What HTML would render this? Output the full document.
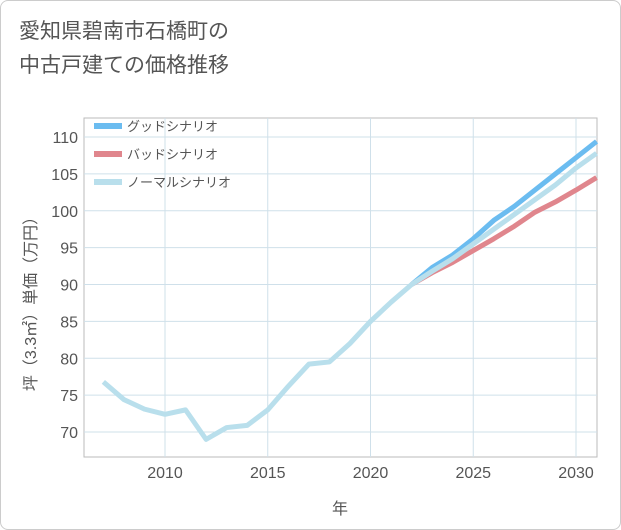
<!DOCTYPE html>
<html><head><meta charset="utf-8">
<style>
body{margin:0;background:#fff;}
#wrap{position:relative;width:619px;height:528px;border:1px solid #ccc;border-radius:8px;background:#fff;overflow:hidden;font-family:"Liberation Sans","Noto Sans CJK JP",sans-serif;}
.title{position:absolute;left:18px;top:14px;font-size:21px;line-height:34px;color:#555;}
</style></head><body>
<div id="wrap">
<div class="title">愛知県碧南市石橋町の<br>中古戸建ての価格推移</div>
<svg id="chart" width="621" height="530" style="position:absolute;left:-1px;top:-1px"></svg>
</div>
<script>
const years=[2007,2008,2009,2010,2011,2012,2013,2014,2015,2016,2017,2018,2019,2020,2021,2022,2023,2024,2025,2026,2027,2028,2029,2030,2031];
const normal=[76.8,74.4,73.1,72.4,73.0,69.0,70.6,70.9,73.0,76.2,79.2,79.5,82.0,85.0,87.6,90.0,91.8,93.5,95.5,97.5,99.5,101.5,103.5,105.8,107.8];
const fyears=[2022,2023,2024,2025,2026,2027,2028,2029,2030,2031];
const good=[90.0,92.3,94.0,96.2,98.7,100.6,102.8,105.0,107.2,109.4];
const bad=[90.0,91.6,93.0,94.6,96.2,97.9,99.8,101.2,102.8,104.5];
const xTicks=[2010,2015,2020,2025,2030];
const yTicks=[70,75,80,85,90,95,100,105,110];
const L=84,R=597,T=118,B=457;
const x=v=>165+(v-2010)*20.55;
const y=v=>432-(v-70)*7.375;
const svg=document.getElementById('chart');
const NS='http://www.w3.org/2000/svg';
function mk(t,a,p){const e=document.createElementNS(NS,t);for(const k in a)e.setAttribute(k,a[k]);(p||svg).appendChild(e);return e;}
let e=mk('rect',{x:L,y:T,width:R-L,height:B-T,fill:'#fff',stroke:'#bbb'});

xTicks.forEach(t=>{let g=mk('line',{x1:x(t),x2:x(t),y1:T,y2:B,stroke:'#cfe0ea'});

let tx=mk('text',{x:x(t),y:478,'text-anchor':'middle','font-size':16,fill:'#555'});tx.textContent=t;
});
yTicks.forEach(t=>{let g=mk('line',{x1:L,x2:R,y1:y(t),y2:y(t),stroke:'#cfe0ea'});

let tx=mk('text',{x:78,y:y(t)+6,'text-anchor':'end','font-size':16,fill:'#555'});tx.textContent=t;
});
function line(xs,vs,c,n){const d=xs.map((v,i)=>(i?'L':'M')+x(v)+','+y(vs[i])).join('');
let p=mk('path',{d:d,fill:'none',stroke:c,'stroke-width':5,'stroke-linejoin':'round'});
}
line(fyears,good,'#6bbcf0','good-scenario-line');
line(fyears,bad,'#e0868d','bad-scenario-line');
line(years,normal,'#b9dfec','normal-scenario-line');
const leg=[['グッドシナリオ','#6bbcf0'],['バッドシナリオ','#e0868d'],['ノーマルシナリオ','#b9dfec']];
leg.forEach((l,i)=>{let yy=126+i*28;
let r=mk('rect',{x:94,y:yy-3,width:28,height:6,fill:l[1]});

let t=mk('text',{x:127,y:yy+5,'font-size':13,fill:'#555'});t.textContent=l[0];
});
let xt=mk('text',{x:340,y:514,'text-anchor':'middle','font-size':16,fill:'#555'});xt.textContent='年';

let yt=mk('text',{x:0,y:0,'text-anchor':'middle','font-size':16,fill:'#555',transform:'translate(36,300) rotate(-90)'});yt.textContent='坪（3.3㎡）単価（万円）';

</script>
</body></html>
